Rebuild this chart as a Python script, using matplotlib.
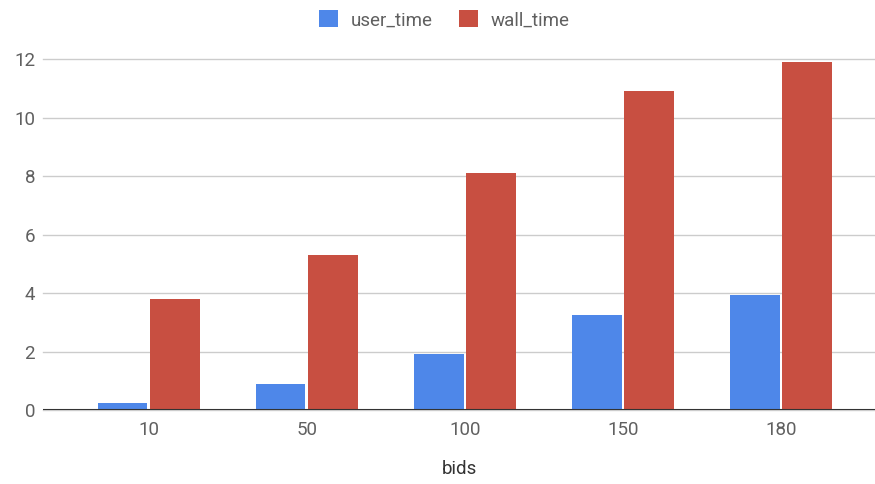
import matplotlib
matplotlib.use("Agg")
import matplotlib.pyplot as plt
import numpy as np

plt.rcParams['font.family'] = ['Roboto', 'DejaVu Sans']

bids = ["10", "50", "100", "150", "180"]
user_time = [0.23, 0.88, 1.91, 3.24, 3.95]
wall_time = [3.79, 5.30, 8.11, 10.90, 11.92]
y_ticks = [0, 2, 4, 6, 8, 10, 12]

BLUE = "#4e87e9"
RED = "#c84f41"
TEXT = "#606060"
FS = 13.5

fig = plt.figure(figsize=(8.75, 4.84), dpi=100)
ax = fig.add_axes([0.049, 0.153, 0.951, 0.7245])

x = np.arange(len(bids))
w = 0.313
ax.bar(x - 0.165, user_time, width=w, color=BLUE, label="user_time", zorder=3)
ax.bar(x + 0.165, wall_time, width=w, color=RED, label="wall_time", zorder=3)

ax.set_xlim(-0.67, 4.595)
ax.set_ylim(0, 12)
ax.set_yticks(y_ticks)
ax.set_xticks(x)
ax.set_xticklabels(bids)

ax.grid(axis="y", color="#cccccc", linewidth=1.0, zorder=0)
for gl in ax.get_ygridlines():
    gl.set_clip_on(False)
ax.axhline(0, color="#333333", linewidth=1.5, zorder=4)

for s in ax.spines.values():
    s.set_visible(False)
ax.tick_params(axis="both", length=0, labelsize=FS, labelcolor=TEXT)
ax.tick_params(axis="y", pad=5.5)
ax.tick_params(axis="x", pad=8)

ax.set_xlabel("bids", fontsize=FS, color="#333333", labelpad=15)

leg = fig.legend(loc="center", bbox_to_anchor=(0.508, 0.959), ncol=2, frameon=False,
                 fontsize=FS, handlelength=1.0, handleheight=1.0,
                 handletextpad=0.7, columnspacing=1.4)
for t in leg.get_texts():
    t.set_color(TEXT)

fig.savefig("out.png", dpi=100)
